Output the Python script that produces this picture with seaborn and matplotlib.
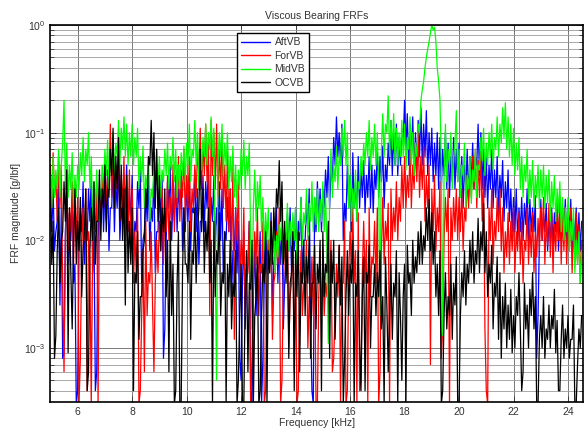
import numpy as np
import pandas as pd
import seaborn as sns
import matplotlib
matplotlib.use("Agg")
import matplotlib.pyplot as plt
from matplotlib.lines import Line2D
from matplotlib.ticker import LogLocator, NullFormatter

# frequency sampling grids, kHz (samples at x.x0 and in-between troughs at x.x5)
freq_khz = np.round(5.0 + 0.1 * np.arange(196), 2)
freq_khz_mid = np.round(5.05 + 0.1 * np.arange(195), 2)

series_names = ["AftVB", "ForVB", "MidVB", "OCVB"]
series_colors = ["#0000ff", "#ff0000", "#00ff00", "#000000"]

aft_vb = [
    0.025, 0.03, 0.012, 0.035, 0.02, 0.0009, 0.03, 0.018, 0.025, 0.006,
    0.0004, 0.02, 0.035, 0.015, 0.03, 0.04, 0.012, 0.0006, 0.025, 0.04,
    0.03, 0.045, 0.02, 0.05, 0.035, 0.055, 0.02, 0.04, 0.05, 0.03,
    0.04, 0.015, 0.035, 0.045, 0.01, 0.03, 0.04, 0.02, 0.045, 0.012,
    0.03, 0.04, 0.0015, 0.035, 0.05, 0.025, 0.04, 0.03, 0.045, 0.02,
    0.035, 0.04, 0.02, 0.045, 0.03, 0.015, 0.04, 0.035, 0.05, 0.025,
    0.04, 0.02, 0.035, 0.03, 0.012, 0.025, 0.03, 0.008, 0.02, 0.015,
    0.0005, 0.012, 0.004, 0.015, 0.0003, 0.01, 0.006, 0.012, 0.0008, 0.015,
    0.01, 0.018, 0.006, 0.02, 0.012, 0.015, 0.004, 0.018, 0.02, 0.012,
    0.02, 0.015, 0.025, 0.01, 0.022, 0.03, 0.0004, 0.025, 0.035, 0.03,
    0.03, 0.045, 0.06, 0.05, 0.09, 0.14, 0.1, 0.12, 0.022, 0.05,
    0.04, 0.065, 0.035, 0.06, 0.045, 0.055, 0.04, 0.06, 0.05, 0.045,
    0.07, 0.06, 0.075, 0.05, 0.08, 0.13, 0.1, 0.12, 0.09, 0.11,
    0.2, 0.15, 0.12, 0.14, 0.1, 0.13, 0.17, 0.12, 0.16, 0.1,
    0.11, 0.08, 0.1, 0.09, 0.07, 0.1, 0.08, 0.06, 0.09, 0.07,
    0.08, 0.06, 0.05, 0.07, 0.06, 0.08, 0.06, 0.12, 0.1, 0.07,
    0.06, 0.05, 0.07, 0.045, 0.06, 0.04, 0.055, 0.035, 0.045, 0.03,
    0.025, 0.03, 0.02, 0.025, 0.022, 0.03, 0.024, 0.02, 0.026, 0.002,
    0.024, 0.018, 0.022, 0.015, 0.02, 0.018, 0.022, 0.016, 0.02, 0.024,
    0.02, 0.024, 0.016, 0.02, 0.018, 0.015,
]
aft_vb_mid = [
    0.012, 0.008, 0.015, 0.0025, 0.0008, 0.012, 0.006, 0.01, 0.004, 0.0003,
    0.008, 0.012, 0.006, 0.01, 0.015, 0.005, 0.0004, 0.01, 0.015, 0.012,
    0.015, 0.008, 0.02, 0.012, 0.02, 0.01, 0.015, 0.02, 0.012, 0.015,
    0.006, 0.012, 0.02, 0.004, 0.012, 0.015, 0.008, 0.015, 0.005, 0.012,
    0.015, 0.0008, 0.01, 0.02, 0.01, 0.015, 0.012, 0.02, 0.008, 0.012,
    0.015, 0.008, 0.018, 0.012, 0.006, 0.015, 0.012, 0.02, 0.01, 0.015,
    0.008, 0.012, 0.01, 0.004, 0.01, 0.012, 0.003, 0.008, 0.005, 0.0008,
    0.004, 0.0015, 0.006, 0.0004, 0.003, 0.002, 0.005, 0.0003, 0.004, 0.005,
    0.006, 0.002, 0.008, 0.004, 0.006, 0.0015, 0.007, 0.008, 0.005, 0.008,
    0.006, 0.01, 0.004, 0.01, 0.012, 0.002, 0.0003, 0.012, 0.015, 0.012,
    0.02, 0.025, 0.02, 0.035, 0.05, 0.06, 0.05, 0.01, 0.015, 0.02,
    0.012, 0.02, 0.015, 0.02, 0.025, 0.018, 0.025, 0.02, 0.018, 0.03,
    0.025, 0.035, 0.02, 0.035, 0.05, 0.04, 0.05, 0.04, 0.05, 0.08,
    0.07, 0.05, 0.06, 0.04, 0.05, 0.06, 0.05, 0.06, 0.04, 0.05,
    0.035, 0.04, 0.03, 0.03, 0.04, 0.03, 0.025, 0.035, 0.03, 0.035,
    0.025, 0.02, 0.03, 0.025, 0.035, 0.03, 0.05, 0.04, 0.03, 0.025,
    0.02, 0.03, 0.02, 0.025, 0.018, 0.025, 0.015, 0.02, 0.015, 0.012,
    0.012, 0.01, 0.012, 0.01, 0.014, 0.01, 0.012, 0.012, 0.0008, 0.01,
    0.01, 0.012, 0.008, 0.01, 0.009, 0.012, 0.008, 0.01, 0.012, 0.01,
    0.012, 0.008, 0.01, 0.009, 0.008,
]

for_vb = [
    0.05, 0.065, 0.04, 0.06, 0.05, 0.0006, 0.045, 0.02, 0.035, 0.03,
    0.025, 0.0008, 0.02, 0.03, 0.012, 0.0003, 0.02, 0.035, 0.025, 0.04,
    0.06, 0.04, 0.12, 0.07, 0.05, 0.08, 0.04, 0.06, 0.03, 0.045,
    0.03, 0.012, 0.02, 0.0004, 0.008, 0.015, 0.005, 0.012, 0.0006, 0.01,
    0.015, 0.03, 0.02, 0.04, 0.025, 0.05, 0.035, 0.06, 0.04, 0.07,
    0.04, 0.06, 0.03, 0.05, 0.07, 0.11, 0.08, 0.12, 0.09, 0.13,
    0.1, 0.12, 0.07, 0.09, 0.05, 0.07, 0.03, 0.05, 0.02, 0.035,
    0.01, 0.02, 0.005, 0.015, 0.0008, 0.012, 0.02, 0.006, 0.015, 0.0004,
    0.01, 0.015, 0.004, 0.012, 0.02, 0.0005, 0.01, 0.015, 0.003, 0.012,
    0.006, 0.0004, 0.008, 0.004, 0.01, 0.003, 0.007, 0.005, 0.0003, 0.008,
    0.006, 0.004, 0.008, 0.01, 0.0008, 0.006, 0.009, 0.004, 0.015, 0.0004,
    0.012, 0.02, 0.008, 0.018, 0.0005, 0.015, 0.01, 0.02, 0.007, 0.015,
    0.02, 0.0006, 0.025, 0.015, 0.022, 0.03, 0.02, 0.035, 0.025, 0.05,
    0.06, 0.04, 0.07, 0.05, 0.08, 0.1, 0.06, 0.075, 0.04, 0.05,
    0.03, 0.04, 0.02, 0.035, 0.0015, 0.025, 0.03, 0.02, 0.025, 0.03,
    0.025, 0.03, 0.02, 0.04, 0.05, 0.06, 0.07, 0.055, 0.065, 0.04,
    0.0004, 0.02, 0.03, 0.015, 0.025, 0.03, 0.02, 0.012, 0.018, 0.015,
    0.02, 0.012, 0.018, 0.015, 0.01, 0.02, 0.014, 0.018, 0.012, 0.016,
    0.02, 0.025, 0.015, 0.022, 0.018, 0.014, 0.02, 0.025, 0.016, 0.02,
    0.015, 0.02, 0.012, 0.018, 0.014, 0.01,
]
for_vb_mid = [
    0.02, 0.025, 0.015, 0.02, 0.004, 0.01, 0.008, 0.012, 0.006, 0.01,
    0.0003, 0.008, 0.01, 0.0004, 0.006, 0.008, 0.012, 0.0003, 0.015, 0.02,
    0.02, 0.03, 0.025, 0.02, 0.03, 0.015, 0.02, 0.01, 0.012, 0.008,
    0.004, 0.005, 0.0003, 0.002, 0.0006, 0.002, 0.004, 0.0025, 0.004, 0.005,
    0.008, 0.006, 0.012, 0.01, 0.015, 0.012, 0.02, 0.015, 0.025, 0.015,
    0.02, 0.012, 0.02, 0.025, 0.04, 0.03, 0.04, 0.035, 0.002, 0.04,
    0.03, 0.025, 0.03, 0.02, 0.015, 0.012, 0.008, 0.0012, 0.01, 0.004,
    0.006, 0.002, 0.005, 0.0003, 0.004, 0.006, 0.002, 0.005, 0.0003, 0.004,
    0.005, 0.0012, 0.005, 0.006, 0.0003, 0.004, 0.005, 0.001, 0.004, 0.0006,
    0.0003, 0.003, 0.002, 0.004, 0.001, 0.003, 0.002, 0.0003, 0.003, 0.002,
    0.002, 0.003, 0.004, 0.0006, 0.002, 0.003, 0.0003, 0.004, 0.0003, 0.005,
    0.006, 0.004, 0.0003, 0.0004, 0.005, 0.004, 0.0003, 0.003, 0.006, 0.004,
    0.0003, 0.008, 0.006, 0.01, 0.0003, 0.01, 0.012, 0.01, 0.015, 0.02,
    0.02, 0.025, 0.02, 0.03, 0.035, 0.025, 0.03, 0.015, 0.02, 0.0007,
    0.012, 0.008, 0.012, 0.0008, 0.01, 0.012, 0.0003, 0.01, 0.012, 0.01,
    0.012, 0.008, 0.015, 0.02, 0.025, 0.03, 0.02, 0.025, 0.015, 0.0015,
    0.0003, 0.01, 0.006, 0.01, 0.012, 0.008, 0.005, 0.007, 0.006, 0.008,
    0.005, 0.008, 0.006, 0.004, 0.008, 0.006, 0.007, 0.005, 0.007, 0.008,
    0.01, 0.006, 0.009, 0.007, 0.005, 0.008, 0.01, 0.006, 0.008, 0.006,
    0.008, 0.005, 0.007, 0.006, 0.004,
]

mid_vb = [
    0.04, 0.06, 0.045, 0.07, 0.05, 0.2, 0.08, 0.05, 0.065, 0.04,
    0.05, 0.065, 0.09, 0.07, 0.1, 0.06, 0.035, 0.045, 0.03, 0.05,
    0.07, 0.085, 0.06, 0.1, 0.08, 0.13, 0.11, 0.14, 0.12, 0.1,
    0.12, 0.09, 0.11, 0.06, 0.075, 0.04, 0.06, 0.03, 0.05, 0.07,
    0.06, 0.045, 0.07, 0.08, 0.06, 0.09, 0.07, 0.05, 0.065, 0.075,
    0.08, 0.12, 0.07, 0.13, 0.1, 0.065, 0.09, 0.12, 0.1, 0.14,
    0.11, 0.0005, 0.1, 0.12, 0.08, 0.1, 0.06, 0.075, 0.05, 0.045,
    0.07, 0.085, 0.06, 0.08, 0.0015, 0.045, 0.035, 0.04, 0.025, 0.018,
    0.02, 0.012, 0.015, 0.011, 0.014, 0.02, 0.012, 0.022, 0.015, 0.018,
    0.02, 0.012, 0.025, 0.018, 0.03, 0.022, 0.035, 0.025, 0.03, 0.024,
    0.035, 0.028, 0.0011, 0.07, 0.05, 0.075, 0.06, 0.11, 0.13, 0.1,
    0.04, 0.03, 0.045, 0.035, 0.06, 0.08, 0.1, 0.13, 0.09, 0.12,
    0.1, 0.002, 0.15, 0.12, 0.22, 0.13, 0.15, 0.11, 0.1, 0.13,
    0.12, 0.09, 0.14, 0.1, 0.08, 0.12, 0.2, 0.3, 0.5, 0.7,
    1.0, 0.95, 0.4, 0.2, 0.0013, 0.12, 0.07, 0.1, 0.06, 0.16,
    0.07, 0.05, 0.08, 0.04, 0.06, 0.045, 0.07, 0.05, 0.09, 0.11,
    0.08, 0.1, 0.12, 0.09, 0.14, 0.12, 0.17, 0.19, 0.14, 0.12,
    0.11, 0.08, 0.09, 0.06, 0.05, 0.07, 0.045, 0.055, 0.04, 0.05,
    0.045, 0.05, 0.04, 0.045, 0.035, 0.04, 0.03, 0.035, 0.025, 0.02,
    0.025, 0.015, 0.02, 0.01, 0.012, 0.008,
]
mid_vb_mid = [
    0.02, 0.025, 0.03, 0.025, 0.08, 0.03, 0.025, 0.03, 0.02, 0.025,
    0.03, 0.04, 0.035, 0.05, 0.03, 0.015, 0.02, 0.015, 0.025, 0.03,
    0.04, 0.03, 0.045, 0.04, 0.06, 0.05, 0.07, 0.06, 0.05, 0.06,
    0.05, 0.06, 0.03, 0.035, 0.02, 0.03, 0.015, 0.025, 0.035, 0.03,
    0.025, 0.035, 0.04, 0.03, 0.045, 0.035, 0.025, 0.03, 0.04, 0.035,
    0.05, 0.035, 0.06, 0.05, 0.03, 0.045, 0.06, 0.05, 0.07, 0.06,
    0.006, 0.05, 0.06, 0.04, 0.05, 0.03, 0.035, 0.025, 0.02, 0.03,
    0.04, 0.03, 0.04, 0.01, 0.02, 0.015, 0.02, 0.012, 0.008, 0.01,
    0.006, 0.007, 0.005, 0.007, 0.01, 0.006, 0.01, 0.008, 0.009, 0.01,
    0.006, 0.012, 0.009, 0.014, 0.01, 0.015, 0.012, 0.014, 0.012, 0.015,
    0.012, 0.008, 0.03, 0.025, 0.035, 0.03, 0.05, 0.06, 0.05, 0.02,
    0.015, 0.02, 0.015, 0.03, 0.04, 0.05, 0.06, 0.045, 0.06, 0.05,
    0.03, 0.07, 0.06, 0.1, 0.06, 0.07, 0.05, 0.05, 0.06, 0.06,
    0.045, 0.07, 0.05, 0.04, 0.06, 0.1, 0.25, 0.4, 0.6, 0.85,
    0.9, 0.7, 0.3, 0.05, 0.04, 0.035, 0.05, 0.03, 0.08, 0.035,
    0.025, 0.04, 0.02, 0.03, 0.022, 0.035, 0.025, 0.045, 0.055, 0.04,
    0.05, 0.06, 0.045, 0.07, 0.06, 0.08, 0.09, 0.07, 0.06, 0.05,
    0.04, 0.045, 0.03, 0.025, 0.035, 0.022, 0.025, 0.02, 0.025, 0.02,
    0.025, 0.02, 0.022, 0.015, 0.02, 0.015, 0.018, 0.012, 0.01, 0.012,
    0.008, 0.01, 0.005, 0.006, 0.004,
]

oc_vb = [
    0.03, 0.015, 0.0013, 0.02, 0.01, 0.035, 0.045, 0.02, 0.0015, 0.03,
    0.015, 0.025, 0.008, 0.03, 0.0006, 0.02, 0.035, 0.015, 0.045, 0.03,
    0.05, 0.03, 0.07, 0.11, 0.06, 0.09, 0.05, 0.03, 0.04, 0.015,
    0.02, 0.005, 0.012, 0.003, 0.008, 0.03, 0.06, 0.13, 0.1, 0.07,
    0.04, 0.02, 0.03, 0.01, 0.015, 0.006, 0.0004, 0.012, 0.0003, 0.02,
    0.006, 0.015, 0.008, 0.02, 0.012, 0.07, 0.03, 0.015, 0.02, 0.01,
    0.015, 0.008, 0.018, 0.005, 0.012, 0.006, 0.01, 0.004, 0.008, 0.0005,
    0.006, 0.0003, 0.008, 0.004, 0.01, 0.002, 0.007, 0.0004, 0.006, 0.012,
    0.008, 0.015, 0.02, 0.03, 0.055, 0.035, 0.015, 0.01, 0.004, 0.012,
    0.008, 0.012, 0.005, 0.01, 0.007, 0.011, 0.004, 0.009, 0.006, 0.01,
    0.012, 0.006, 0.015, 0.008, 0.01, 0.004, 0.009, 0.007, 0.0008, 0.008,
    0.006, 0.01, 0.004, 0.008, 0.0004, 0.007, 0.005, 0.009, 0.003, 0.006,
    0.005, 0.008, 0.003, 0.007, 0.0006, 0.006, 0.004, 0.008, 0.005, 0.0005,
    0.006, 0.009, 0.005, 0.01, 0.007, 0.012, 0.015, 0.011, 0.02, 0.024,
    0.018, 0.012, 0.006, 0.008, 0.0004, 0.005, 0.003, 0.006, 0.004, 0.007,
    0.0003, 0.005, 0.008, 0.006, 0.01, 0.012, 0.008, 0.016, 0.012, 0.022,
    0.012, 0.006, 0.009, 0.004, 0.007, 0.005, 0.003, 0.004, 0.0025, 0.0035,
    0.002, 0.003, 0.005, 0.0004, 0.004, 0.0025, 0.0035, 0.005, 0.003, 0.0003,
    0.002, 0.003, 0.0015, 0.0025, 0.002, 0.0035, 0.0018, 0.0004, 0.0025, 0.0015,
    0.002, 0.0012, 0.0025, 0.0003, 0.0015, 0.002,
]
oc_vb_mid = [
    0.006, 0.0008, 0.008, 0.004, 0.012, 0.015, 0.0009, 0.005, 0.01, 0.006,
    0.008, 0.003, 0.012, 0.0004, 0.008, 0.01, 0.006, 0.015, 0.01, 0.02,
    0.012, 0.025, 0.04, 0.02, 0.03, 0.015, 0.01, 0.0025, 0.005, 0.006,
    0.0004, 0.004, 0.0012, 0.003, 0.01, 0.02, 0.05, 0.04, 0.02, 0.015,
    0.008, 0.012, 0.003, 0.0006, 0.002, 0.0003, 0.004, 0.0003, 0.005, 0.006,
    0.004, 0.0012, 0.006, 0.004, 0.02, 0.012, 0.005, 0.008, 0.004, 0.0003,
    0.003, 0.006, 0.002, 0.004, 0.0003, 0.003, 0.0015, 0.003, 0.0003, 0.002,
    0.0003, 0.003, 0.0006, 0.0035, 0.0003, 0.003, 0.0003, 0.002, 0.004, 0.0003,
    0.005, 0.006, 0.01, 0.02, 0.015, 0.006, 0.004, 0.0008, 0.005, 0.0004,
    0.003, 0.0006, 0.004, 0.002, 0.004, 0.0008, 0.004, 0.0015, 0.004, 0.0004,
    0.003, 0.005, 0.0008, 0.004, 0.0012, 0.004, 0.0025, 0.0003, 0.003, 0.002,
    0.004, 0.0003, 0.003, 0.0012, 0.003, 0.0004, 0.004, 0.001, 0.003, 0.002,
    0.003, 0.0015, 0.0003, 0.0025, 0.002, 0.0012, 0.003, 0.0003, 0.002, 0.003,
    0.0003, 0.004, 0.002, 0.004, 0.005, 0.006, 0.006, 0.008, 0.01, 0.008,
    0.006, 0.003, 0.002, 0.0003, 0.002, 0.0015, 0.002, 0.0012, 0.0025, 0.0003,
    0.002, 0.003, 0.0025, 0.004, 0.005, 0.004, 0.006, 0.005, 0.008, 0.005,
    0.003, 0.004, 0.0015, 0.003, 0.0012, 0.0008, 0.0015, 0.001, 0.0012, 0.0009,
    0.001, 0.002, 0.0015, 0.0006, 0.0015, 0.001, 0.002, 0.0015, 0.0003, 0.0012,
    0.001, 0.0008, 0.0012, 0.001, 0.0015, 0.0009, 0.0004, 0.0012, 0.0008, 0.001,
    0.0008, 0.0012, 0.0003, 0.0007, 0.001,
]

x_ticks = [6, 8, 10, 12, 14, 16, 18, 20, 22, 24]

all_values = [(aft_vb, aft_vb_mid), (for_vb, for_vb_mid),
              (mid_vb, mid_vb_mid), (oc_vb, oc_vb_mid)]
frames = []
for name, (vals, vals_mid) in zip(series_names, all_values):
    assert len(vals) == len(freq_khz), (name, len(vals))
    assert len(vals_mid) == len(freq_khz_mid), (name, len(vals_mid))
    frames.append(pd.DataFrame({"freq": np.concatenate([freq_khz, freq_khz_mid]),
                                "mag": np.concatenate([vals, vals_mid]),
                                "series": name}))
df = pd.concat(frames, ignore_index=True)

sns.set_theme(style="white")
plt.rcParams["font.family"] = ["Liberation Sans", "DejaVu Sans"]

fig = plt.figure(figsize=(5.84, 4.29), dpi=100)
ax = fig.add_axes([50.4 / 584, 1 - 401.7 / 429, (583 - 50.4) / 584, (401.7 - 25) / 429])

palette = dict(zip(series_names, series_colors))
sns.lineplot(data=df, x="freq", y="mag", hue="series", hue_order=series_names,
             palette=palette, estimator=None, sort=True, linewidth=0.9,
             legend=False, ax=ax)

ax.set_yscale("log")
ax.set_xlim(5, 24.55)
ax.set_ylim(10 ** -3.5, 1)
ax.set_xticks(x_ticks)
ax.set_xticklabels([str(t) for t in x_ticks])
ax.yaxis.set_major_locator(LogLocator(base=10, numticks=10))
ax.yaxis.set_minor_locator(LogLocator(base=10, subs=np.arange(2, 10), numticks=20))
ax.yaxis.set_minor_formatter(NullFormatter())

ax.grid(True, which="major", color="#7a7a7a", linewidth=0.7, linestyle="-")
ax.grid(True, which="minor", axis="y", color="#9a9a9a", linewidth=0.6, linestyle="-")
for ln in ax.get_lines():
    ln.set_zorder(3)

ax.tick_params(axis="both", which="both", direction="in", labelsize=7.5,
               colors="#333333", labelcolor="#333333", top=True, right=True,
               left=True, bottom=True, length=3, width=0.6)
ax.tick_params(axis="both", which="major", length=4)
for sp in ax.spines.values():
    sp.set_color("black")
    sp.set_linewidth(1.2)
    sp.set_zorder(5)

ax.set_xlabel("Frequency [kHz]", fontsize=7.5, color="#333333", labelpad=1)
ax.set_ylabel("FRF magnitude [g/lbf]", fontsize=7.5, color="#333333", labelpad=2)
ax.set_title("Viscous Bearing FRFs", fontsize=7.5, color="#333333", pad=4)

handles = [Line2D([0], [0], color=c, linewidth=1.0) for c in series_colors]
leg = ax.legend(handles, series_names, loc="upper left",
                bbox_to_anchor=((237 - 50.4) / 532.6, (401.7 - 33) / 376.7),
                borderaxespad=0, fontsize=7.5, frameon=True, fancybox=False,
                edgecolor="black", framealpha=1, handlelength=2.8,
                handletextpad=0.4, labelspacing=0.35, borderpad=0.4)
leg.get_frame().set_linewidth(1.0)
for t in leg.get_texts():
    t.set_color("#333333")
leg.set_zorder(10)

fig.savefig("out.png", dpi=100, facecolor="white")
